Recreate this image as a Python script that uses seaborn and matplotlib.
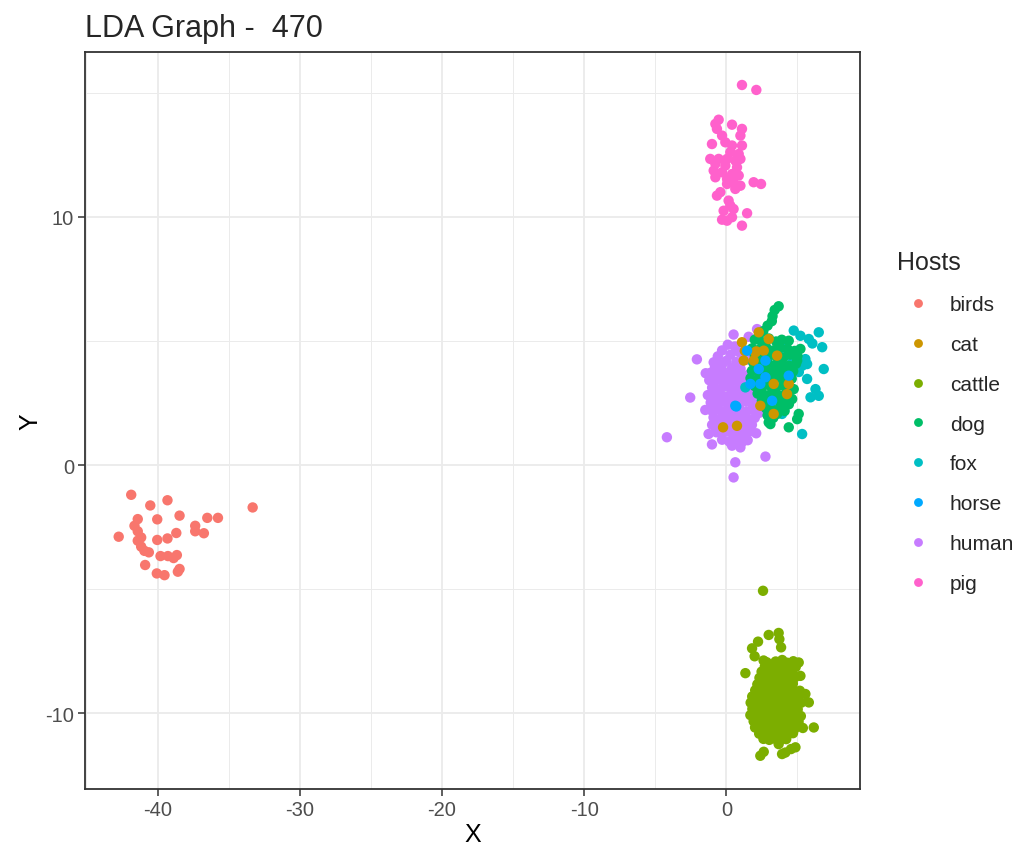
import matplotlib
matplotlib.use("Agg")
import matplotlib.pyplot as plt
import seaborn as sns
import pandas as pd
from matplotlib.ticker import MultipleLocator

# ---------------- data ----------------
hosts = ["birds", "cat", "cattle", "dog", "fox", "horse", "human", "pig"]
palette = ["#F8766D", "#CD9600", "#7CAE00", "#00BE67", "#00BFC4", "#00A9FF", "#C77CFF", "#FF61CC"]

birds_x = [-41.85, -40.51, -39.30, -33.31, -38.45, -40.02, -36.50, -35.75, -41.39, -41.62, -37.35, -37.35,
           -36.74, -38.68, -41.39, -42.73, -41.15, -41.39, -40.02, -39.30, -41.15, -40.92, -40.61, -39.79,
           -39.27, -38.87, -38.64, -40.87, -38.45, -38.57, -40.05, -39.51]
birds_y = [-1.20, -1.63, -1.42, -1.71, -2.04, -2.19, -2.13, -2.13, -2.18, -2.45, -2.45, -2.67,
           -2.75, -2.74, -2.67, -2.89, -2.92, -3.05, -3.02, -2.96, -3.29, -3.46, -3.52, -3.67,
           -3.67, -3.75, -3.63, -4.03, -4.19, -4.30, -4.37, -4.44]

pig_x = [1.10, 2.11, -0.54, -0.77, 0.40, 1.10, -0.66, -0.30, 0.99, -1.01, -0.07, 0.40, 0.28, 0.87, 1.10,
         -1.13, -0.54, 0.63, 0.05, 0.99, -0.77, -0.07, 0.75, -0.89, -0.30, 0.40, 0.87, -0.77, 0.05, 1.92,
         2.44, 0.51, 0.05, 0.99, 0.63, -0.42, -0.66, 0.16, 0.28, -0.19, 0.51, 1.46, -0.30, 0.05, 1.10, 0.40]
pig_y = [15.32, 15.12, 13.92, 13.75, 13.72, 13.55, 13.55, 13.28, 13.28, 12.94, 13.01, 12.88, 12.61, 12.54, 12.88,
         12.34, 12.34, 12.27, 12.34, 12.34, 12.14, 12.07, 12.00, 11.87, 11.80, 11.73, 11.67, 11.60, 11.53, 11.40,
         11.33, 11.40, 11.33, 11.26, 11.13, 11.00, 10.86, 10.66, 10.46, 10.25, 10.32, 10.15, 9.89, 9.85, 9.65, 9.99]

cattle_x = [2.58, 2.98, 3.68, 3.73, 3.85, 2.23, 1.81, 1.99, 1.34, 5.09, 5.21, 5.56, 5.80, 6.15, 3.68, 2.63,
            2.39, 4.15, 4.86, 3.92, 4.55,
            2.62, 2.84, 3.47, 3.93, 4.28, 4.71,
            2.71, 3.12, 3.58, 4.03, 4.52, 4.88,
            2.48, 2.93, 3.31, 3.77, 4.24, 4.63,
            2.33, 2.69, 3.14, 3.52, 3.91, 4.37, 4.82,
            2.18, 2.63, 2.97, 3.43, 3.79, 4.22, 4.68,
            2.03, 2.41, 2.82, 3.18, 3.62, 4.04, 4.43, 4.87, 5.17,
            1.82, 2.24, 2.58, 3.03, 3.41, 3.83, 4.19, 4.61, 4.98,
            1.71, 2.12, 2.53, 2.91, 3.28, 3.72, 4.13, 4.52, 4.93, 5.27,
            1.83, 2.19, 2.62, 3.02, 3.44, 3.81, 4.18, 4.63, 5.02,
            1.69, 2.13, 2.48, 2.92, 3.31, 3.68, 4.12, 4.49, 4.91, 5.24,
            1.92, 2.31, 2.73, 3.09, 3.52, 3.93, 4.32, 4.72, 5.08,
            2.02, 2.38, 2.83, 3.21, 3.63, 4.02, 4.41, 4.79, 5.38,
            2.31, 2.72, 3.08, 3.53, 3.88, 4.33, 4.69,
            2.61, 3.02, 3.41, 3.83, 4.21]
cattle_y = [-5.07, -6.85, -6.77, -7.02, -7.35, -7.12, -7.39, -7.71, -8.39, -7.96, -8.50, -9.23, -9.57, -10.58, -11.25, -11.56,
            -11.72, -11.59, -11.38, -11.65, -11.45,
            -7.88, -7.95, -7.92, -7.86, -7.97, -7.91,
            -8.12, -8.08, -8.15, -8.10, -8.06, -8.14,
            -8.33, -8.38, -8.31, -8.36, -8.34, -8.39,
            -8.58, -8.62, -8.57, -8.63, -8.59, -8.61, -8.56,
            -8.84, -8.87, -8.82, -8.88, -8.83, -8.86, -8.81,
            -9.08, -9.12, -9.07, -9.13, -9.09, -9.11, -9.06, -9.14, -9.10,
            -9.33, -9.37, -9.32, -9.38, -9.34, -9.36, -9.31, -9.39, -9.35,
            -9.58, -9.62, -9.57, -9.63, -9.59, -9.61, -9.56, -9.64, -9.60, -9.58,
            -9.83, -9.87, -9.82, -9.88, -9.84, -9.86, -9.81, -9.89, -9.85,
            -10.08, -10.12, -10.07, -10.13, -10.09, -10.11, -10.06, -10.14, -10.10, -10.12,
            -10.33, -10.37, -10.32, -10.38, -10.34, -10.36, -10.31, -10.39, -10.35,
            -10.58, -10.62, -10.57, -10.63, -10.59, -10.61, -10.56, -10.64, -10.60,
            -10.83, -10.87, -10.82, -10.88, -10.84, -10.86, -10.81,
            -11.04, -11.08, -11.03, -11.07, -11.05]

human_x = [-4.18, -2.54, -2.07, 0.51, 1.57, 2.16, -0.89, -1.45, -1.48, -1.01, 0.63, 0.51, 0.99, -1.25, 2.75,
           0.10, 0.60, -0.30, 0.90, 0.30, -0.60, 1.20, 0.00, -0.30, 0.70, 1.50, -0.80, 0.40, 1.00,
           -1.10, -0.60, -0.20, 0.20, 0.60, 1.10, 1.60,
           -1.20, -0.80, -0.40, 0.00, 0.50, 0.90, 1.30, 1.80,
           -1.00, -0.60, -0.20, 0.30, 0.70, 1.10, 1.50, 1.90,
           -1.30, -0.90, -0.50, -0.10, 0.30, 0.80, 1.20, 1.60, 2.10,
           -1.10, -0.70, -0.30, 0.10, 0.50, 0.90, 1.40, 1.90, 2.40,
           -1.00, -0.60, -0.20, 0.20, 0.60, 1.00, 1.40, 1.80, 2.30,
           -0.90, -0.50, -0.10, 0.30, 0.70, 1.10, 1.50, 2.00,
           -1.00, -0.60, -0.20, 0.20, 0.60, 1.00, 1.40, 1.80,
           -0.70, -0.30, 0.10, 0.50, 0.90, 1.30, 1.70, 2.10,
           -0.30, 0.20, 0.70, 1.10, 1.50, 0.40]
human_y = [1.12, 2.72, 4.26, 5.26, 5.17, 5.48, 4.14, 3.70, 2.22, 0.83, 0.11, -0.50, 0.71, 1.25, 0.34,
           4.85, 4.78, 4.62, 4.55, 4.45, 4.38, 4.40, 4.20, 4.05, 4.15, 4.25, 3.95, 3.92, 3.88,
           3.72, 3.68, 3.75, 3.62, 3.70, 3.58, 3.66,
           3.42, 3.38, 3.45, 3.35, 3.40, 3.30, 3.44, 3.36,
           3.12, 3.05, 3.15, 3.08, 3.02, 3.14, 3.05, 3.10,
           2.82, 2.78, 2.85, 2.75, 2.82, 2.72, 2.80, 2.76, 2.84,
           2.52, 2.48, 2.55, 2.45, 2.52, 2.42, 2.55, 2.46, 2.50,
           2.18, 2.25, 2.15, 2.22, 2.12, 2.20, 2.14, 2.24, 2.10,
           1.92, 1.85, 1.95, 1.88, 1.82, 1.93, 1.86, 1.90,
           1.62, 1.55, 1.65, 1.58, 1.52, 1.60, 1.55, 1.62,
           1.32, 1.25, 1.35, 1.22, 1.30, 1.24, 1.36, 1.28,
           1.02, 0.95, 1.05, 0.92, 1.00, 0.78]

fox_x = [4.74, 5.21, 5.80, 6.50, 6.74, 5.56, 5.68, 5.33, 6.85, 5.68, 6.27, 6.50, 5.92, 3.92, 5.33, 4.63,
         4.39, 4.15, 1.34, 5.10, 6.05]
fox_y = [5.42, 5.21, 5.08, 5.35, 4.75, 4.27, 4.07, 4.00, 3.87, 3.47, 3.06, 2.79, 2.73, 2.06, 1.25, 4.14,
         3.67, 4.68, 3.13, 3.75, 4.90]

dog_x = [3.68, 3.40, 3.25, 3.20, 2.90, 2.28, 2.60,
         4.39, 5.21, 4.98, 4.74, 4.63, 5.09, 4.98, 4.39, 3.10, 3.80, 3.57, 2.98,
         2.00, 2.50, 3.00, 3.50, 3.90,
         1.80, 2.30, 2.80, 3.30, 3.80, 4.30, 4.80,
         2.00, 2.50, 3.00, 3.50, 4.00, 4.50, 5.00,
         1.90, 2.40, 2.90, 3.40, 3.90, 4.40, 4.90,
         1.80, 2.30, 2.80, 3.30, 3.80, 4.30, 4.70,
         1.70, 2.20, 2.70, 3.20, 3.70, 4.20, 4.60,
         2.00, 2.50, 3.00, 3.50, 4.00, 4.40,
         2.20, 2.70, 3.20, 3.70, 4.20,
         2.50, 3.00, 3.50, 4.00, 4.40,
         2.80, 3.30, 4.10,
         2.90, 3.30]
dog_y = [6.40, 6.25, 6.00, 5.80, 5.62, 5.21, 5.40,
         5.01, 4.68, 4.21, 3.06, 2.66, 2.06, 1.85, 1.52, 1.65, 2.39, 2.06, 1.72,
         5.05, 4.95, 5.10, 4.98, 5.05,
         4.70, 4.65, 4.75, 4.62, 4.72, 4.68, 4.60,
         4.42, 4.35, 4.45, 4.38, 4.32, 4.45, 4.40,
         4.12, 4.05, 4.15, 4.02, 4.10, 4.00, 4.08,
         3.80, 3.75, 3.85, 3.72, 3.82, 3.70, 3.78,
         3.50, 3.45, 3.55, 3.42, 3.52, 3.40, 3.48,
         3.18, 3.12, 3.22, 3.10, 3.20, 3.15,
         2.88, 2.82, 2.92, 2.80, 2.90,
         2.60, 2.52, 2.65, 2.55, 2.45,
         2.28, 2.22, 2.18,
         2.00, 1.90]

cat_x = [1.10, 2.28, 2.98, 2.04, 2.63, 1.22, 3.57, 1.92, 4.39, 3.33, 4.27, 2.39, 3.33, 0.75, -0.23, 2.11, 1.30]
cat_y = [4.95, 5.35, 5.08, 4.54, 4.61, 4.21, 4.41, 4.21, 3.27, 3.27, 2.86, 2.39, 2.06, 1.58, 1.52, 4.58, 4.60]

horse_x = [1.46, 2.75, 2.28, 2.75, 4.39, 3.22, 2.39, 0.63, 0.70, 1.69]
horse_y = [4.61, 4.21, 3.87, 3.54, 3.60, 2.59, 3.27, 2.39, 2.36, 3.27]

x_ticks = [-40, -30, -20, -10, 0]
y_ticks = [-10, 0, 10]

# ---------------- frame ----------------
groups = [("birds", birds_x, birds_y), ("pig", pig_x, pig_y), ("cattle", cattle_x, cattle_y),
          ("human", human_x, human_y), ("fox", fox_x, fox_y), ("dog", dog_x, dog_y),
          ("cat", cat_x, cat_y), ("horse", horse_x, horse_y)]
frames = [pd.DataFrame({"X": gx, "Y": gy, "Hosts": name}) for name, gx, gy in groups]
df = pd.concat(frames, ignore_index=True)

sns.set_style("white")
plt.rcParams["font.family"] = ["Liberation Sans", "DejaVu Sans"]
plt.rcParams["axes.unicode_minus"] = False

fig = plt.figure(figsize=(10.22, 8.54), dpi=100)
ax = fig.add_axes([85 / 1022, 1 - 790 / 854, (860 - 85) / 1022, (790 - 53) / 854])

sns.scatterplot(data=df, x="X", y="Y", hue="Hosts", hue_order=hosts, palette=palette,
                s=56, linewidth=0, alpha=1, ax=ax, zorder=3)

ax.set_xlim(-45.1, 9.4)
ax.set_ylim(-13.06, 16.65)
ax.set_xticks(x_ticks)
ax.set_yticks(y_ticks)
ax.xaxis.set_minor_locator(MultipleLocator(5))
ax.yaxis.set_minor_locator(MultipleLocator(5))
ax.grid(True, which="major", color="#EBEBEB", linewidth=1.3, zorder=0)
ax.grid(True, which="minor", color="#EBEBEB", linewidth=0.7, zorder=0)
ax.set_axisbelow(True)
for sp in ax.spines.values():
    sp.set_color("#333333")
    sp.set_linewidth(1.3)
ax.tick_params(which="major", direction="out", length=5, width=1.1, color="#333333",
               labelsize=14.5, labelcolor="#4D4D4D", pad=3, bottom=True, left=True)
ax.tick_params(which="minor", length=0)
ax.set_xlabel("X", fontsize=18, color="black", labelpad=2)
ax.set_ylabel("Y", fontsize=18, color="black", labelpad=2)

fig.text(85 / 1022, 1 - 37 / 854, "LDA Graph -  470", fontsize=22, ha="left", va="baseline")

handles, labels = ax.get_legend_handles_labels()
ax.legend_.remove()
leg = fig.legend(handles, labels, title="Hosts", loc="upper left",
                 bbox_to_anchor=(889 / 1022, 1 - 243 / 854), frameon=False,
                 fontsize=15, title_fontsize=18, labelspacing=1.0, handletextpad=0.52,
                 markerscale=0.85, handlelength=2.0, borderaxespad=0)
leg._legend_box.align = "left"

fig.savefig("out.png", dpi=100)
